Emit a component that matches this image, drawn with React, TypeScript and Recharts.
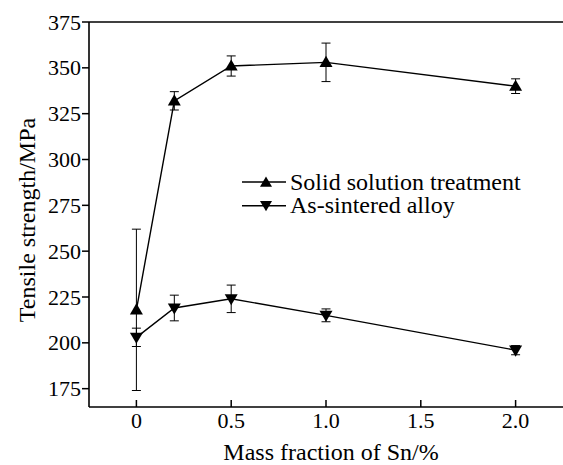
import { LineChart, Line, XAxis, YAxis, ErrorBar, ReferenceLine, Legend, Customized } from "recharts";

const massFraction = [0, 0.2, 0.5, 1.0, 2.0];
const solidSolution = [218, 332, 351, 353, 340];
const solidSolutionErr = [44, 5, 5.5, 10.5, 4];
const asSintered = [203, 219, 224, 215, 196];
const asSinteredErr = [5, 7, 7.5, 3.5, 2.5];

const xTicks = [0, 0.5, 1.0, 1.5, 2.0];
const yTicks = [175, 200, 225, 250, 275, 300, 325, 350, 375];
const seriesNames = ["Solid solution treatment", "As-sintered alloy"];

const data = massFraction.map((x, i) => ({
    x,
    solid: solidSolution[i],
    solidErr: solidSolutionErr[i],
    sintered: asSintered[i],
    sinteredErr: asSinteredErr[i],
}));

const FONT = "Liberation Serif, serif";
const txt = { fontFamily: FONT };

// triangle markers
const triUp = (cx: number, cy: number, s = 6.5) =>
    `M${cx},${cy - s} L${cx + s},${cy + s * 0.7} L${cx - s},${cy + s * 0.7} Z`;
const triDown = (cx: number, cy: number, s = 6.5) =>
    `M${cx},${cy + s} L${cx + s},${cy - s * 0.7} L${cx - s},${cy - s * 0.7} Z`;

const UpDot = (props: any) => {
    const { cx, cy, index } = props;
    if (cx == null || cy == null) return null;
    return <path key={`up-${index}`} d={triUp(cx, cy)} fill="#000" />;
};

const DownDot = (props: any) => {
    const { cx, cy, index } = props;
    if (cx == null || cy == null) return null;
    return <path key={`down-${index}`} d={triDown(cx, cy)} fill="#000" />;
};

// x ticks point inward (up) in the original
const XTick = (props: any) => {
    const { x, y, payload } = props;
    const v = payload.value;
    return (
        <g>
            <line x1={x} x2={x} y1={y} y2={y - 7} stroke="#000" strokeWidth={1.5} />
            <text x={x} y={y + 21} textAnchor="middle" fontSize={22} style={txt} fill="#000">
                {v === 0 ? "0" : v.toFixed(1)}
            </text>
        </g>
    );
};

// y tick labels drawn the same way as the x ones
const YTick = (props: any) => {
    const { y, payload } = props;
    return (
        <g>
            <text
                x={81}
                y={y + 7.5}
                textAnchor="end"
                fontFamily={FONT}
                fontSize={22}
                style={{ fontFamily: FONT, fontSize: "22px" }}
                fill="#000"
            >
                {payload.value.toFixed(0)}
            </text>
        </g>
    );
};

const renderLegend = (props: any) => {
    const items = [...(props.payload || [])].sort(
        (a: any, b: any) => seriesNames.indexOf(a.value) - seriesNames.indexOf(b.value)
    );
    return (
        <svg width={320} height={52} style={{ display: "block" }}>
            {items.map((p: any, i: number) => {
                const y = 12 + i * 23.7;
                return (
                    <g key={p.value}>
                        <line x1={2} x2={46} y1={y} y2={y} stroke="#000" strokeWidth={1.5} />
                        <path d={i === 0 ? triUp(26, y + 0.5, 6) : triDown(26, y - 0.5, 6)} fill="#000" />
                        <text x={50} y={y + 7.5} fontSize={24} style={txt} fill="#000">
                            {p.value}
                        </text>
                    </g>
                );
            })}
        </svg>
    );
};

export default function App() {
    return (
        <div style={{ position: "absolute", left: 0, top: 0, background: "#fff", fontFamily: FONT }}>
            <LineChart
                width={563}
                height={465}
                data={data}
                margin={{ top: 22, right: 0, left: 0, bottom: 0 }}
            >
                <XAxis
                    dataKey="x"
                    type="number"
                    domain={[-0.25, 2.25]}
                    ticks={xTicks}
                    height={58}
                    tickLine={false}
                    tickSize={0}
                    tickMargin={0}
                    tick={<XTick />}
                    axisLine={{ stroke: "#000", strokeWidth: 1.6 }}
                    allowDataOverflow
                />
                <YAxis
                    type="number"
                    domain={[165, 375]}
                    ticks={yTicks}
                    width={89}
                    tickSize={7}
                    tickMargin={2}
                    tick={<YTick />}
                    tickLine={{ stroke: "#000", strokeWidth: 1.5 }}
                    axisLine={{ stroke: "#000", strokeWidth: 1.6 }}
                    allowDataOverflow
                />
                <ReferenceLine y={375} stroke="#000" strokeWidth={1.6} />
                <Legend
                    layout="vertical"
                    align="center"
                    verticalAlign="middle"
                    content={renderLegend}
                    wrapperStyle={{ left: 240, top: 170, width: 320, height: 52 }}
                />
                <Line
                    dataKey="solid"
                    name={seriesNames[0]}
                    stroke="#000"
                    strokeWidth={1.4}
                    dot={<UpDot />}
                    activeDot={false}
                    isAnimationActive={false}
                >
                    <ErrorBar dataKey="solidErr" direction="y" width={4.5} stroke="#000" strokeWidth={1} />
                </Line>
                <Line
                    dataKey="sintered"
                    name={seriesNames[1]}
                    stroke="#000"
                    strokeWidth={1.4}
                    dot={<DownDot />}
                    activeDot={false}
                    isAnimationActive={false}
                >
                    <ErrorBar dataKey="sinteredErr" direction="y" width={4.5} stroke="#000" strokeWidth={1} />
                </Line>
                <Customized
                    component={() => (
                        <g>
                            <text x={331} y={460} textAnchor="middle" fontSize={24} style={txt} fill="#000">
                                Mass fraction of Sn/%
                            </text>
                            <text
                                x={35}
                                y={220}
                                transform="rotate(-90 35 220)"
                                textAnchor="middle"
                                fontSize={24}
                                style={txt}
                                fill="#000"
                            >
                                Tensile strength/MPa
                            </text>
                        </g>
                    )}
                />
            </LineChart>
        </div>
    );
}
